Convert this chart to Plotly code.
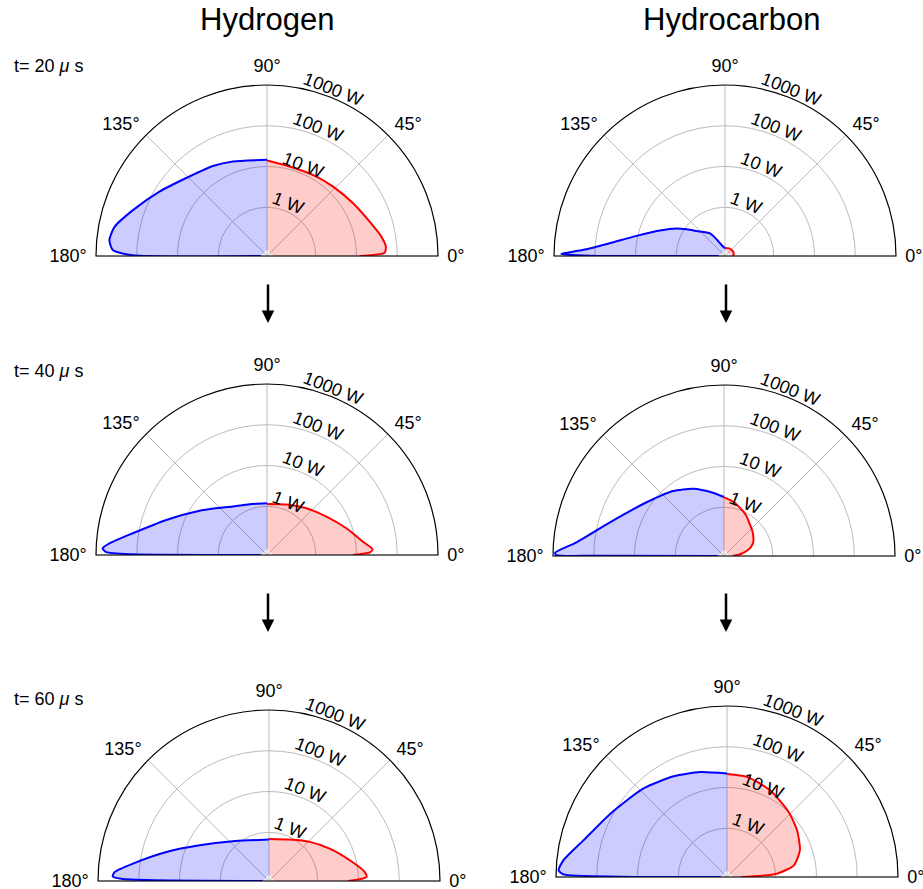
import math
import plotly.graph_objects as go

W, H = 923, 889

# ---------------- data (theta in degrees, power in W) ----------------
h20_red_theta = [90, 75.8, 58.1, 46.4, 31.5, 18.5, 9.6, 4.5, 1.6, 0]
h20_red_r     = [14.0, 11.7, 12.6, 14.3, 19.1, 28.8, 44.7, 53.7, 49.0, 12.0]
h20_blue_theta = [90, 109.8, 121, 134.3, 149.1, 161.1, 169.1, 174.2, 177.8, 179.7, 180]
h20_blue_r     = [14.6, 18.6, 24.0, 33.9, 75.9, 190.5, 407, 490, 389, 126, 0.092]

hc20_red_theta = [90, 60, 30, 10, 0]
hc20_red_r     = [0.100, 0.105, 0.107, 0.105, 0.100]
hc20_blue_theta = [90, 107, 115, 123.5, 138.6, 145.2, 150.5, 158.7, 167.2, 173.7, 177.2, 179.1, 179.3, 179.9, 180]
hc20_blue_r     = [0.098, 0.12, 0.165, 0.295, 0.537, 0.891, 1.48, 3.31, 10.7, 44.7, 162, 603, 661, 132, 0.092]

h40_red_theta = [90, 69, 49.9, 32.9, 18.6, 7.9, 3.1, 1.5, 0]
h40_red_r     = [1.14, 1.35, 2.0, 3.47, 7.24, 15.1, 25.1, 21.4, 8.3]
h40_blue_theta = [90, 108.9, 125.1, 146.6, 160.8, 170.8, 175.8, 177.7, 179.0, 179.7, 180]
h40_blue_r     = [1.18, 1.32, 1.82, 6.03, 26.3, 138, 479, 692, 562, 126, 0.092]

hc40_red_theta = [90, 83, 76.6, 68, 60.8, 52, 41.4, 33, 24.7, 18, 12.6, 6, 0]
hc40_red_r     = [1.74, 1.50, 1.29, 1.02, 0.85, 0.66, 0.54, 0.46, 0.39, 0.31, 0.234, 0.16, 0.105]
hc40_blue_theta = [90, 99.9, 114.7, 128.1, 145.5, 163.7, 174.8, 178.9, 179.7, 179.9, 180]
hc40_blue_r     = [1.78, 2.40, 4.17, 6.76, 13.2, 53.7, 282, 891, 832, 87, 0.092]

h60_red_theta = [90, 63.4, 43.8, 28.1, 14.4, 5.4, 2.4, 0]
h60_red_r     = [0.68, 0.87, 1.55, 3.09, 7.08, 14.5, 15.8, 5.5]
h60_blue_theta = [90, 115.4, 132.2, 152.8, 164.2, 172.7, 176.7, 178.3, 179.2, 180]
h60_blue_r     = [0.66, 0.81, 1.32, 5.25, 26.3, 148, 398, 437, 245, 0.092]

hc60_red_theta = [90, 78.7, 63.4, 46.5, 33.7, 20.2, 9.9, 3.8, 0]
hc60_red_r     = [21.4, 20.4, 15.1, 10.0, 7.41, 5.13, 2.95, 1.07, 0.148]
hc60_blue_theta = [90, 104.3, 117.9, 133.3, 151.5, 165.7, 174.2, 177.7, 179.1, 179.8, 180]
hc60_blue_r     = [21.9, 28.8, 39.8, 61.7, 115, 275, 692, 871, 661, 26.3, 0.092]

column_titles = ["Hydrogen", "Hydrocarbon"]
time_labels = ["t= 20 <i>μ</i> s", "t= 40 <i>μ</i> s", "t= 60 <i>μ</i> s"]
radial_ticks = [1, 10, 100, 1000]
radial_ticktext = ["1 W", "10 W", "100 W", "1000 W"]
angular_ticks = [0, 45, 90, 135, 180]
angular_ticktext = ["0°", "45°", "90°", "135°", "180°"]

R_MIN = 0.092
LOG_RANGE = [-1.197, 3]

panels = [
    (h20_red_theta, h20_red_r, h20_blue_theta, h20_blue_r),
    (hc20_red_theta, hc20_red_r, hc20_blue_theta, hc20_blue_r),
    (h40_red_theta, h40_red_r, h40_blue_theta, h40_blue_r),
    (hc40_red_theta, hc40_red_r, hc40_blue_theta, hc40_blue_r),
    (h60_red_theta, h60_red_r, h60_blue_theta, h60_blue_r),
    (hc60_red_theta, hc60_red_r, hc60_blue_theta, hc60_blue_r),
]

# pixel centers and radius of each half-disk
centers = [(267, 256), (725, 256), (267, 555), (724, 556), (269, 881), (727, 877)]
RAD = 171

fig = go.Figure()
layout = dict(width=W, height=H, margin=dict(l=0, r=0, t=0, b=0),
              paper_bgcolor="white", showlegend=False,
              font=dict(family="Liberation Sans, Arial, sans-serif", color="black"))
annotations = []

for i, (rt, rr, bt, br) in enumerate(panels):
    key = "polar" if i == 0 else f"polar{i+1}"
    sub = key
    cx, cy = centers[i]
    layout[key] = dict(
        domain=dict(x=[(cx - RAD) / W, (cx + RAD) / W],
                    y=[1 - cy / H, 1 - (cy - RAD) / H]),
        sector=[0, 180],
        hole=0,
        bgcolor="rgba(0,0,0,0)",
        radialaxis=dict(type="log", range=LOG_RANGE, tickvals=radial_ticks,
                        showticklabels=False, angle=67,
                        showline=False, ticks="", gridcolor="#bbbbbb", gridwidth=1),
        angularaxis=dict(tickvals=angular_ticks, ticktext=angular_ticktext,
                         direction="counterclockwise", rotation=0,
                         showline=True, linecolor="black", linewidth=1.2,
                         gridcolor="#bbbbbb", ticks="outside", ticklen=5,
                         tickcolor="rgba(0,0,0,0)", tickfont=dict(size=18)),
    )
    # fills
    fig.add_trace(go.Scatterpolar(theta=list(rt) + [0, 90], r=list(rr) + [R_MIN, R_MIN],
                                  mode="lines", fill="toself",
                                  fillcolor="rgba(255,0,0,0.2)",
                                  line=dict(width=0, shape="spline", smoothing=0.6),
                                  subplot=sub, hoverinfo="skip"))
    fig.add_trace(go.Scatterpolar(theta=list(bt) + [90], r=list(br) + [R_MIN],
                                  mode="lines", fill="toself",
                                  fillcolor="rgba(0,0,255,0.2)",
                                  line=dict(width=0, shape="spline", smoothing=0.6),
                                  subplot=sub, hoverinfo="skip"))
    # outlines
    fig.add_trace(go.Scatterpolar(theta=rt, r=rr, mode="lines",
                                  line=dict(color="#ff0000", width=2, shape="spline", smoothing=0.6),
                                  subplot=sub))
    fig.add_trace(go.Scatterpolar(theta=bt, r=br, mode="lines",
                                  line=dict(color="#0000ff", width=2, shape="spline", smoothing=0.6),
                                  subplot=sub))
    # radial tick labels (placed on the axis scale, tangent to the rings)
    for v, txt in zip(radial_ticks, radial_ticktext):
        rpx = RAD * (math.log10(v) - LOG_RANGE[0]) / (LOG_RANGE[1] - LOG_RANGE[0]) + 8
        ang = math.radians(68.5)
        x = cx + rpx * math.cos(ang)
        y = cy - rpx * math.sin(ang)
        annotations.append(dict(text=txt, x=x / W, y=1 - y / H, xref="paper", yref="paper",
                                showarrow=False, textangle=21.5, font=dict(size=18),
                                xanchor="center", yanchor="middle"))

for x, t in zip([267, 731], column_titles):
    annotations.append(dict(text=t, x=x / W, y=1 - 20 / H, xref="paper", yref="paper",
                            showarrow=False, font=dict(size=31), xanchor="center", yanchor="middle"))
for y, t in zip([66, 371, 699], time_labels):
    annotations.append(dict(text=t, x=12 / W, y=1 - y / H, xref="paper", yref="paper",
                            showarrow=False, font=dict(size=18), xanchor="left", yanchor="middle"))
for x in [268, 726]:
    for y0, y1 in [(283, 323), (592, 632)]:
        annotations.append(dict(x=x / W, y=1 - y1 / H, xref="paper", yref="paper",
                                ax=0, ay=-(y1 - y0), axref="pixel", ayref="pixel",
                                showarrow=True, arrowhead=2, arrowsize=1, arrowwidth=2.5,
                                arrowcolor="black", text=""))
layout["annotations"] = annotations
fig.update_layout(**layout)
fig.write_html("out.html", config={"displayModeBar": False},
               post_script="document.body.style.margin='0';document.body.style.overflow='hidden';")
